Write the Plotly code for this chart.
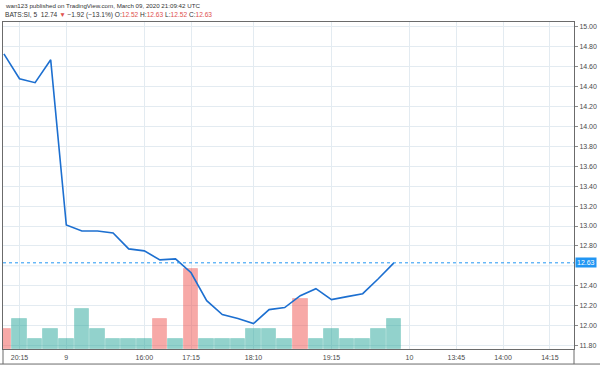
import plotly.graph_objects as go

# ---- data ----
closes = [14.73, 14.48, 14.44, 14.67, 13.01, 12.95, 12.95, 12.93, 12.77, 12.75,
          12.66, 12.67, 12.53, 12.25, 12.11, 12.07, 12.02, 12.16, 12.18, 12.30,
          12.37, 12.26, 12.29, 12.32, 12.47, 12.63]
volumes = [200, 300, 100, 200, 100, 400, 200, 100, 100, 100,
           300, 100, 800, 100, 100, 100, 200, 200, 100, 500,
           100, 200, 100, 100, 200, 300]
down_bar = [1, 0, 0, 0, 0, 0, 0, 0, 0, 0,
            1, 0, 1, 0, 0, 0, 0, 0, 0, 1,
            0, 0, 0, 0, 0, 0]
tick_idx = [1, 4, 9, 12, 16, 21, 26, 29, 32, 35]
tick_labels = ["20:15", "9", "16:00", "17:15", "18:10", "19:15", "10", "13:45", "14:00", "14:15"]
price_ticks = [11.8, 12.0, 12.2, 12.4, 12.8, 13.0, 13.2, 13.4, 13.6, 13.8,
               14.0, 14.2, 14.4, 14.6, 14.8, 15.0]
hidden_grid = 12.6
last_price = 12.63

idx = list(range(len(closes)))
bar_fill = ["rgba(239,83,80,0.5)" if d else "rgba(38,166,154,0.5)" for d in down_bar]
bar_edge = ["rgba(239,83,80,0.25)" if d else "rgba(38,166,154,0.25)" for d in down_bar]

fig = go.Figure()
fig.add_trace(go.Bar(x=idx, y=volumes, marker=dict(color=bar_fill, line=dict(color=bar_edge, width=1)),
                     width=0.93, yaxis="y", showlegend=False, hoverinfo="skip"))
fig.add_trace(go.Scatter(x=idx, y=closes, mode="lines", line=dict(color="#1c6fd0", width=1.6),
                         yaxis="y2", showlegend=False))

grid = "#e3ebf1"
axis_col = "#6b6b6b"
fig.update_layout(
    width=600, height=367,
    margin=dict(l=3, r=26, t=22, b=18),
    paper_bgcolor="white", plot_bgcolor="white",
    font=dict(family="Liberation Sans, Arial, sans-serif", size=7, color="#4a4a4a"),
    bargap=0,
    xaxis=dict(range=[-0.058, 36.545], tickmode="array", tickvals=tick_idx, ticktext=tick_labels,
               showgrid=True, gridcolor=grid, gridwidth=1, zeroline=False,
               showline=True, linecolor=axis_col, linewidth=1, mirror=True,
               ticks="", ticklabelstandoff=2, tickfont=dict(size=7, color="#4a4a4a")),
    yaxis=dict(range=[0, 3260], visible=False, showgrid=False, zeroline=False),
    yaxis2=dict(overlaying="y", side="right", range=[11.764, 15.050], tickmode="array",
                tickvals=price_ticks, tickformat=".2f",
                showgrid=True, gridcolor=grid, gridwidth=1, zeroline=False,
                showline=True, linecolor=axis_col, linewidth=1, mirror=True,
                ticks="outside", ticklen=3, tickcolor="#8a8a8a",
                tickfont=dict(size=7, color="#4a4a4a")),
)

# gridline under the last-price label
fig.add_shape(type="line", xref="paper", x0=0, x1=1, yref="y2", y0=hidden_grid, y1=hidden_grid,
              line=dict(color=grid, width=1), layer="below")
# last price dotted line
fig.add_shape(type="line", xref="paper", x0=0, x1=1, yref="y2", y0=last_price, y1=last_price,
              line=dict(color="#2196f3", width=1, dash="dot"))
# last price label box
fig.add_annotation(xref="paper", x=1, yref="y2", y=last_price, xanchor="left", yanchor="middle",
                   text=f"{last_price:.2f}", showarrow=False, bgcolor="#2196f3",
                   font=dict(color="white", size=7), borderpad=1, xshift=1)

# time-axis box lines
fig.add_shape(type="line", xref="paper", yref="paper", x0=-0.01, x1=1.05, y0=-0.046, y1=-0.046,
              line=dict(color=axis_col, width=1))
fig.add_shape(type="line", xref="paper", yref="paper", x0=1, x1=1, y0=-0.046, y1=0,
              line=dict(color=axis_col, width=1))
fig.add_shape(type="line", xref="paper", yref="paper", x0=0, x1=0, y0=-0.046, y1=0,
              line=dict(color=axis_col, width=1))

# header text
hdr_font = "Liberation Sans, Arial, sans-serif"
fig.add_annotation(xref="paper", yref="paper", x=0, y=1.0495, xanchor="left", yanchor="middle",
                   showarrow=False, font=dict(family=hdr_font, size=6.2, color="#333333"),
                   text="wan123 published on TradingView.com, March 09, 2020 21:09:42 UTC")
red = "#e0504d"
fig.add_annotation(xref="paper", yref="paper", x=0, y=1.022, xanchor="left", yanchor="middle",
                   showarrow=False, font=dict(family=hdr_font, size=6.6, color="#333333"),
                   text=("BATS:SI, 5  12.74 <span style='color:%s'>▼</span> −1.92 (−13.1%%) "
                         "O:<span style='color:%s'>12.52</span> H:<span style='color:%s'>12.63</span> "
                         "L:<span style='color:%s'>12.52</span> C:<span style='color:%s'>12.63</span>")
                        % (red, red, red, red, red))

fig.write_html("out.html", config={"displayModeBar": False},
               post_script="document.body.style.margin='0';")
